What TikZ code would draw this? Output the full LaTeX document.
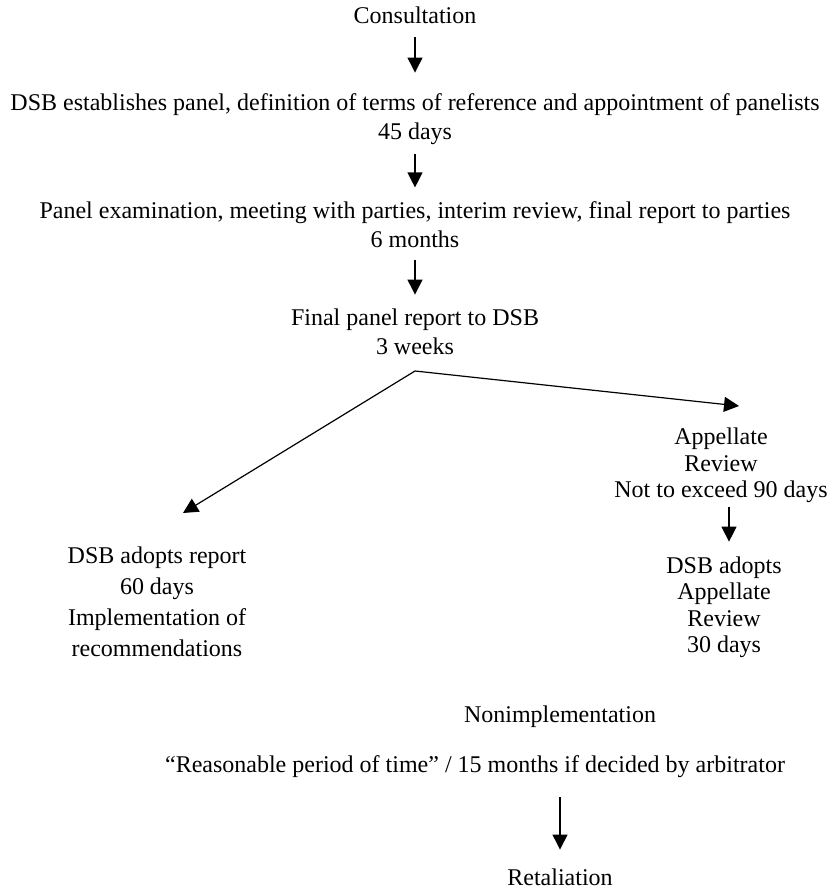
\documentclass[tikz,border=0pt]{standalone}
\usepackage{fontspec}
\setmainfont{Liberation Serif}
\usetikzlibrary{arrows.meta}

\begin{document}
\begin{tikzpicture}[x=1pt,y=-1pt,
  flow/.style={black,line width=1.2pt,-{Triangle[length=15pt,width=15pt]}},
  stage/.style={align=center,font=\fontsize{24}{29}\selectfont},
  stagetight/.style={align=center,font=\fontsize{24}{26.5}\selectfont}]
\tikzstyle{every node}+=[inner sep=0pt]
\useasboundingbox (0,0) rectangle (833,890);
\node [stage,anchor=base] (cons) at (415,24) {Consultation};
\node [stage] (dsb) at (415,118.9) {DSB establishes panel, definition of terms of reference and appointment of panelists\\45 days};
\node [stage] (exam) at (415,224.3) {Panel examination, meeting with parties, interim review, final report to parties\\6 months};
\node [stage] (final) at (415,331.3) {Final panel report to DSB\\3 weeks};
\coordinate (fork) at (415,371);
\coordinate (lefttip) at (183,513);
\coordinate (righttip) at (739,406);
\node [stagetight] (appeal) at (721,465.4) {Appellate\\Review\\Not to exceed 90 days};
\node [stagetight] (adopt) at (724,607.1) {DSB adopts\\Appellate\\Review\\30 days};
\node [align=center,font=\fontsize{24}{31.3}\selectfont] (report) at (157,601.8) {DSB adopts report\\60 days\\Implementation of\\recommendations};
\node [stage,anchor=base] (nonimpl) at (560,722) {Nonimplementation};
\node [stage,anchor=base] (reason) at (475,772) {``Reasonable period of time'' / 15 months if decided by arbitrator};
\node [stage,anchor=base] (retal) at (560,885) {Retaliation};
% main line
\draw [flow,shorten <=13pt,shorten >=20.6pt] (cons.south) -- (dsb.north);
\draw [flow,shorten <=9.8pt,shorten >=13.6pt] (dsb.south) -- (exam.north);
\draw [flow,shorten <=12pt,shorten >=13.6pt] (exam.south) -- (final.north);
% branches
\draw [flow] (fork) -- (lefttip);
\draw [flow] (fork) -- (righttip);
\draw [flow,shorten <=4pt,shorten >=14.6pt] ([xshift=8pt]appeal.south) -- ([xshift=5pt]adopt.north);
\draw [flow,shorten <=20pt,shorten >=18.6pt] (retal.north |- reason.south) -- (retal.north);
\end{tikzpicture}
\end{document}
